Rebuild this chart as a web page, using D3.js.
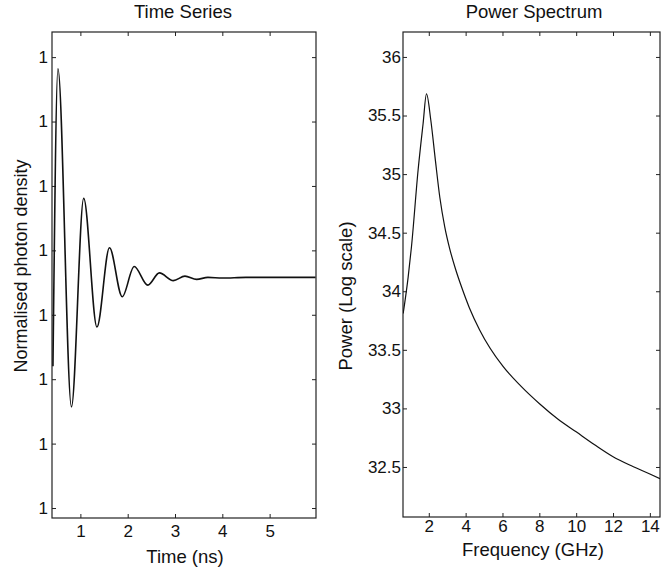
<!DOCTYPE html>
<html>
<head>
<meta charset="utf-8">
<script src="https://cdn.jsdelivr.net/npm/d3@7"></script>
<style>
  html, body { margin: 0; padding: 0; background: #fff; }
  svg { display: block; }
  text { font-family: "Liberation Sans", Arial, Helvetica, sans-serif; fill: #111; }
</style>
</head>
<body>
<svg id="chart" width="661" height="572"></svg>
<script>
// ---------------- DATA ----------------
// Time series (left panel)
const timeNs = [0.42, 0.526, 0.811, 1.07, 1.35, 1.615, 1.884, 2.137, 2.425, 2.67, 2.964, 3.21, 3.457, 3.695, 4.0, 4.5, 5.0, 5.5, 5.97];
const photonDensity = [1.00022, 1.000682, 1.000157, 1.000481, 1.000281, 1.000404, 1.000328, 1.000375, 1.000346, 1.000365, 1.000353, 1.000360, 1.000355, 1.000358, 1.000357, 1.000358, 1.000358, 1.000358, 1.000358];
const timeTicks = [1, 2, 3, 4, 5];
const densityTicks = [1.0000, 1.0001, 1.0002, 1.0003, 1.0004, 1.0005, 1.0006, 1.0007];
const densityTickLabels = ["1", "1", "1", "1", "1", "1", "1", "1"];

// Power spectrum (right panel)
const freqGHz = [0.61, 0.88, 1.06, 1.42, 1.69, 1.875, 2.11, 2.36, 2.6, 2.866, 3.14, 3.45, 3.77, 4.2, 4.76, 6.02, 7.0, 8.01, 9.0, 10.0, 11.0, 11.98, 13.0, 14.0, 14.55];
const powerLog = [33.81, 34.12, 34.38, 35.035, 35.43, 35.684, 35.46, 35.115, 34.80, 34.55, 34.36, 34.19, 34.04, 33.86, 33.67, 33.36, 33.19, 33.04, 32.91, 32.80, 32.69, 32.59, 32.51, 32.44, 32.40];
const freqTicks = [2, 4, 6, 8, 10, 12, 14];
const powerTicks = [32.5, 33, 33.5, 34, 34.5, 35, 35.5, 36];

// ---------------- DRAW ----------------
const svg = d3.select("#chart");
svg.append("rect").attr("width", 661).attr("height", 572).attr("fill", "#fff");

function panel(cfg) {
  const g = svg.append("g");
  const x = d3.scaleLinear().domain(cfg.xDomain).range([cfg.left, cfg.right]);
  const y = d3.scaleLinear().domain(cfg.yDomain).range([cfg.bottom, cfg.top]);
  const T = 4;

  const ax = g.append("g").attr("transform", `translate(0,${cfg.bottom})`)
    .call(d3.axisBottom(x).tickValues(cfg.xTicks).tickSizeInner(-T).tickSizeOuter(0).tickPadding(cfg.xPad).tickFormat(d3.format("d")));
  const axT = g.append("g").attr("transform", `translate(0,${cfg.top})`)
    .call(d3.axisTop(x).tickValues(cfg.xTicks).tickSizeInner(-T).tickSizeOuter(0).tickFormat(""));
  const ay = g.append("g").attr("transform", `translate(${cfg.left},0)`)
    .call(d3.axisLeft(y).tickValues(cfg.yTicks).tickSizeInner(-T).tickSizeOuter(0).tickPadding(cfg.yPad).tickFormat(cfg.yFormat));
  const ayR = g.append("g").attr("transform", `translate(${cfg.right},0)`)
    .call(d3.axisRight(y).tickValues(cfg.yTicks).tickSizeInner(-T).tickSizeOuter(0).tickFormat(""));

  [ax, axT, ay, ayR].forEach(a => {
    a.select(".domain").remove();
    a.selectAll(".tick line").attr("stroke", "#222").attr("stroke-width", 1);
    a.selectAll(".tick text").attr("font-size", 17).attr("fill", "#111")
      .attr("font-family", '"Liberation Sans", Arial, sans-serif');
  });

  g.append("rect")
    .attr("x", cfg.left).attr("y", cfg.top)
    .attr("width", cfg.right - cfg.left).attr("height", cfg.bottom - cfg.top)
    .attr("fill", "none").attr("stroke", "#222").attr("stroke-width", 1.2);

  const clipId = "clip" + cfg.id;
  svg.append("clipPath").attr("id", clipId).append("rect")
    .attr("x", cfg.left).attr("y", cfg.top)
    .attr("width", cfg.right - cfg.left).attr("height", cfg.bottom - cfg.top);
  const line = d3.line().x(d => x(d[0])).y(d => y(d[1])).curve(d3.curveMonotoneX);
  g.append("path")
    .datum(d3.zip(cfg.xs, cfg.ys))
    .attr("clip-path", `url(#${clipId})`)
    .attr("d", line)
    .attr("fill", "none").attr("stroke", "#111").attr("stroke-width", cfg.lw);

  g.append("text").attr("x", cfg.titleX).attr("y", cfg.titleY)
    .attr("text-anchor", "middle").attr("font-size", 18.5).text(cfg.title);
  g.append("text").attr("x", cfg.xLabelX).attr("y", cfg.xLabelY)
    .attr("text-anchor", "middle").attr("font-size", 18.5).text(cfg.xLabel);
  g.append("text")
    .attr("transform", `translate(${cfg.yLabelX},${cfg.yLabelY}) rotate(-90)`)
    .attr("text-anchor", "middle").attr("font-size", cfg.yLabelSize).text(cfg.yLabel);
}

panel({
  id: "L", left: 52, right: 316, top: 32, bottom: 518,
  xDomain: [0.4, 5.98], yDomain: [0.9999845, 1.000739],
  xTicks: timeTicks, yTicks: densityTicks,
  yFormat: (d, i) => densityTickLabels[i],
  xPad: 7, yPad: 4,
  xs: timeNs, ys: photonDensity, lw: 1.6,
  title: "Time Series", titleX: 183, titleY: 18,
  xLabel: "Time (ns)", xLabelX: 185, xLabelY: 563,
  yLabel: "Normalised photon density", yLabelX: 27, yLabelY: 266, yLabelSize: 18
});

panel({
  id: "R", left: 403, right: 660, top: 32, bottom: 517,
  xDomain: [0.6, 14.55], yDomain: [32.073, 36.213],
  xTicks: freqTicks, yTicks: powerTicks,
  yFormat: d3.format("~g"),
  xPad: 3, yPad: 2,
  xs: freqGHz, ys: powerLog, lw: 1.2,
  title: "Power Spectrum", titleX: 534, titleY: 17.5,
  xLabel: "Frequency (GHz)", xLabelX: 533, xLabelY: 556,
  yLabel: "Power (Log scale)", yLabelX: 352, yLabelY: 296, yLabelSize: 18.5
});
</script>
</body>
</html>
